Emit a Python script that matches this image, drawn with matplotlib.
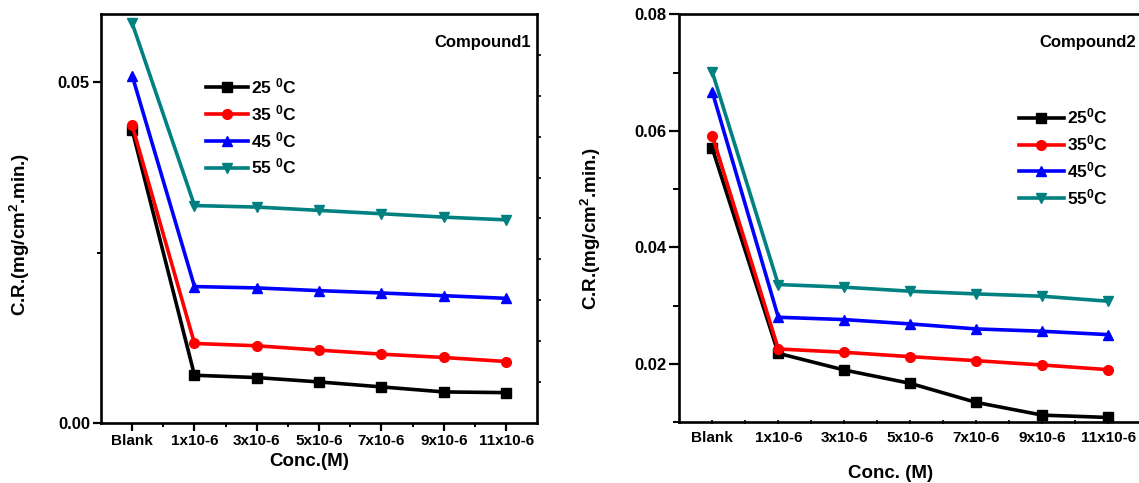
import numpy as np
import matplotlib
matplotlib.use("Agg")
import matplotlib.pyplot as plt
from matplotlib.ticker import FixedLocator

plt.rcParams['font.family'] = ['Liberation Sans', 'DejaVu Sans']
plt.rcParams['font.weight'] = 'bold'
plt.rcParams['axes.labelweight'] = 'bold'
plt.rcParams['mathtext.fontset'] = 'custom'
plt.rcParams['mathtext.rm'] = 'Liberation Sans:bold'
plt.rcParams['mathtext.it'] = 'Liberation Sans:bold'
plt.rcParams['mathtext.bf'] = 'Liberation Sans:bold'
plt.rcParams['mathtext.default'] = 'bf'

conc_labels = ["Blank", "1x10-6", "3x10-6", "5x10-6", "7x10-6", "9x10-6", "11x10-6"]
temps = ["25", "35", "45", "55"]

# Compound 1 corrosion rates
c1_25 = [0.0430, 0.00697, 0.00663, 0.00599, 0.00526, 0.00452, 0.00442]
c1_35 = [0.0437, 0.01164, 0.01130, 0.01066, 0.01007, 0.00958, 0.00899]
c1_45 = [0.0510, 0.02000, 0.01980, 0.01940, 0.01906, 0.01866, 0.01827]
c1_55 = [0.0587, 0.03190, 0.03168, 0.03119, 0.03070, 0.03020, 0.02980]

# Compound 2 corrosion rates
c2_25 = [0.0570, 0.02183, 0.01897, 0.01668, 0.01341, 0.01123, 0.01083]
c2_35 = [0.0592, 0.02258, 0.02201, 0.02126, 0.02057, 0.01983, 0.01903]
c2_45 = [0.0667, 0.02802, 0.02762, 0.02688, 0.02602, 0.02562, 0.02504]
c2_55 = [0.0701, 0.03364, 0.03318, 0.03249, 0.03203, 0.03163, 0.03077]

colors = ["#000000", "#ff0000", "#0000ff", "#008080"]
markers = ["s", "o", "^", "v"]
msizes = [6.5, 7, 7.5, 7.5]

W, H = 1139, 483
fig = plt.figure(figsize=(W / 100, H / 100), dpi=100)

ax1 = fig.add_axes([101 / W, 1 - 422.7 / H, (537.3 - 101) / W, (422.7 - 14.3) / H])
ax2 = fig.add_axes([679.3 / W, 1 - 422.3 / H, (1141.3 - 679.3) / W, (422.3 - 14.3) / H])

x = np.arange(len(conc_labels))


def draw(ax, series, lab_fmt):
    for s, t, c, m, ms in zip(series, temps, colors, markers, msizes):
        ax.plot(x, s, color=c, marker=m, markersize=ms, lw=2.6, label=lab_fmt.format(t),
                clip_on=False, zorder=3)
    ax.set_xlim(-0.5, 6.5)
    ax.set_xticks(x)
    ax.set_xticklabels(conc_labels, fontsize=11, fontweight='bold')
    ax.xaxis.set_minor_locator(FixedLocator(x[:-1] + 0.5))
    for sp in ax.spines.values():
        sp.set_linewidth(1.9)


draw(ax1, [c1_25, c1_35, c1_45, c1_55], "{} $^0$C")
ax1.set_ylim(0, 0.06)
ax1.set_yticks([0.0, 0.05])
ax1.set_yticklabels(["0.00", "0.05"], fontsize=12, fontweight='bold')
ax1.yaxis.set_minor_locator(FixedLocator([0.025]))
ax1.tick_params(axis='both', which='major', direction='out', length=6, width=1.6, pad=2)
ax1.tick_params(axis='both', which='minor', direction='out', length=3, width=1.4)
ax1r = ax1.twinx()
ax1r.set_ylim(0, 0.06)
ax1r.set_yticks(np.arange(0.006, 0.0595, 0.006))
ax1r.set_yticklabels([])
ax1r.tick_params(axis='y', direction='out', length=3, width=1.2)
for sp in ax1r.spines.values():
    sp.set_visible(False)
ax1.text(0.985, 0.93, "Compound1", transform=ax1.transAxes, ha='right', va='center',
         fontsize=12, fontweight='bold')
leg1 = ax1.legend(loc='upper left', bbox_to_anchor=(0.225, 0.865), frameon=False,
                  fontsize=12.5, handlelength=2.4, handletextpad=0.2, labelspacing=0.4,
                  borderaxespad=0)

draw(ax2, [c2_25, c2_35, c2_45, c2_55], "{}$^0$C")
ax2.set_ylim(0.01, 0.08)
ax2.set_yticks([0.02, 0.04, 0.06, 0.08])
ax2.set_yticklabels(["0.02", "0.04", "0.06", "0.08"], fontsize=12, fontweight='bold')
ax2.yaxis.set_minor_locator(FixedLocator([0.01, 0.03, 0.05, 0.07]))
ax2.tick_params(axis='y', which='major', direction='out', length=7, width=1.6, pad=2)
ax2.tick_params(axis='y', which='minor', direction='out', length=4, width=1.4)
ax2.tick_params(axis='x', which='both', direction='inout', length=3, width=1.2, pad=5)
ax2.text(0.988, 0.93, "Compound2", transform=ax2.transAxes, ha='right', va='center',
         fontsize=12, fontweight='bold')
leg2 = ax2.legend(loc='upper left', bbox_to_anchor=(0.72, 0.79), frameon=False,
                  fontsize=12.5, handlelength=2.6, handletextpad=0.15, labelspacing=0.4,
                  borderaxespad=0)

fig.text(309 / W, 1 - 462 / H, "Conc.(M)", ha='center', va='center', fontsize=13.5, fontweight='bold')
fig.text(891 / W, 1 - 474 / H, "Conc. (M)", ha='center', va='center', fontsize=13.5, fontweight='bold')
fig.text(20 / W, 1 - 234 / H, "C.R.(mg/cm$^2$.min.)", rotation=90, ha='center', va='center',
         fontsize=13.5, fontweight='bold')
fig.text(591 / W, 1 - 228 / H, "C.R.(mg/cm$^2$.min.)", rotation=90, ha='center', va='center',
         fontsize=13.5, fontweight='bold')

fig.savefig("out.png", dpi=100)
